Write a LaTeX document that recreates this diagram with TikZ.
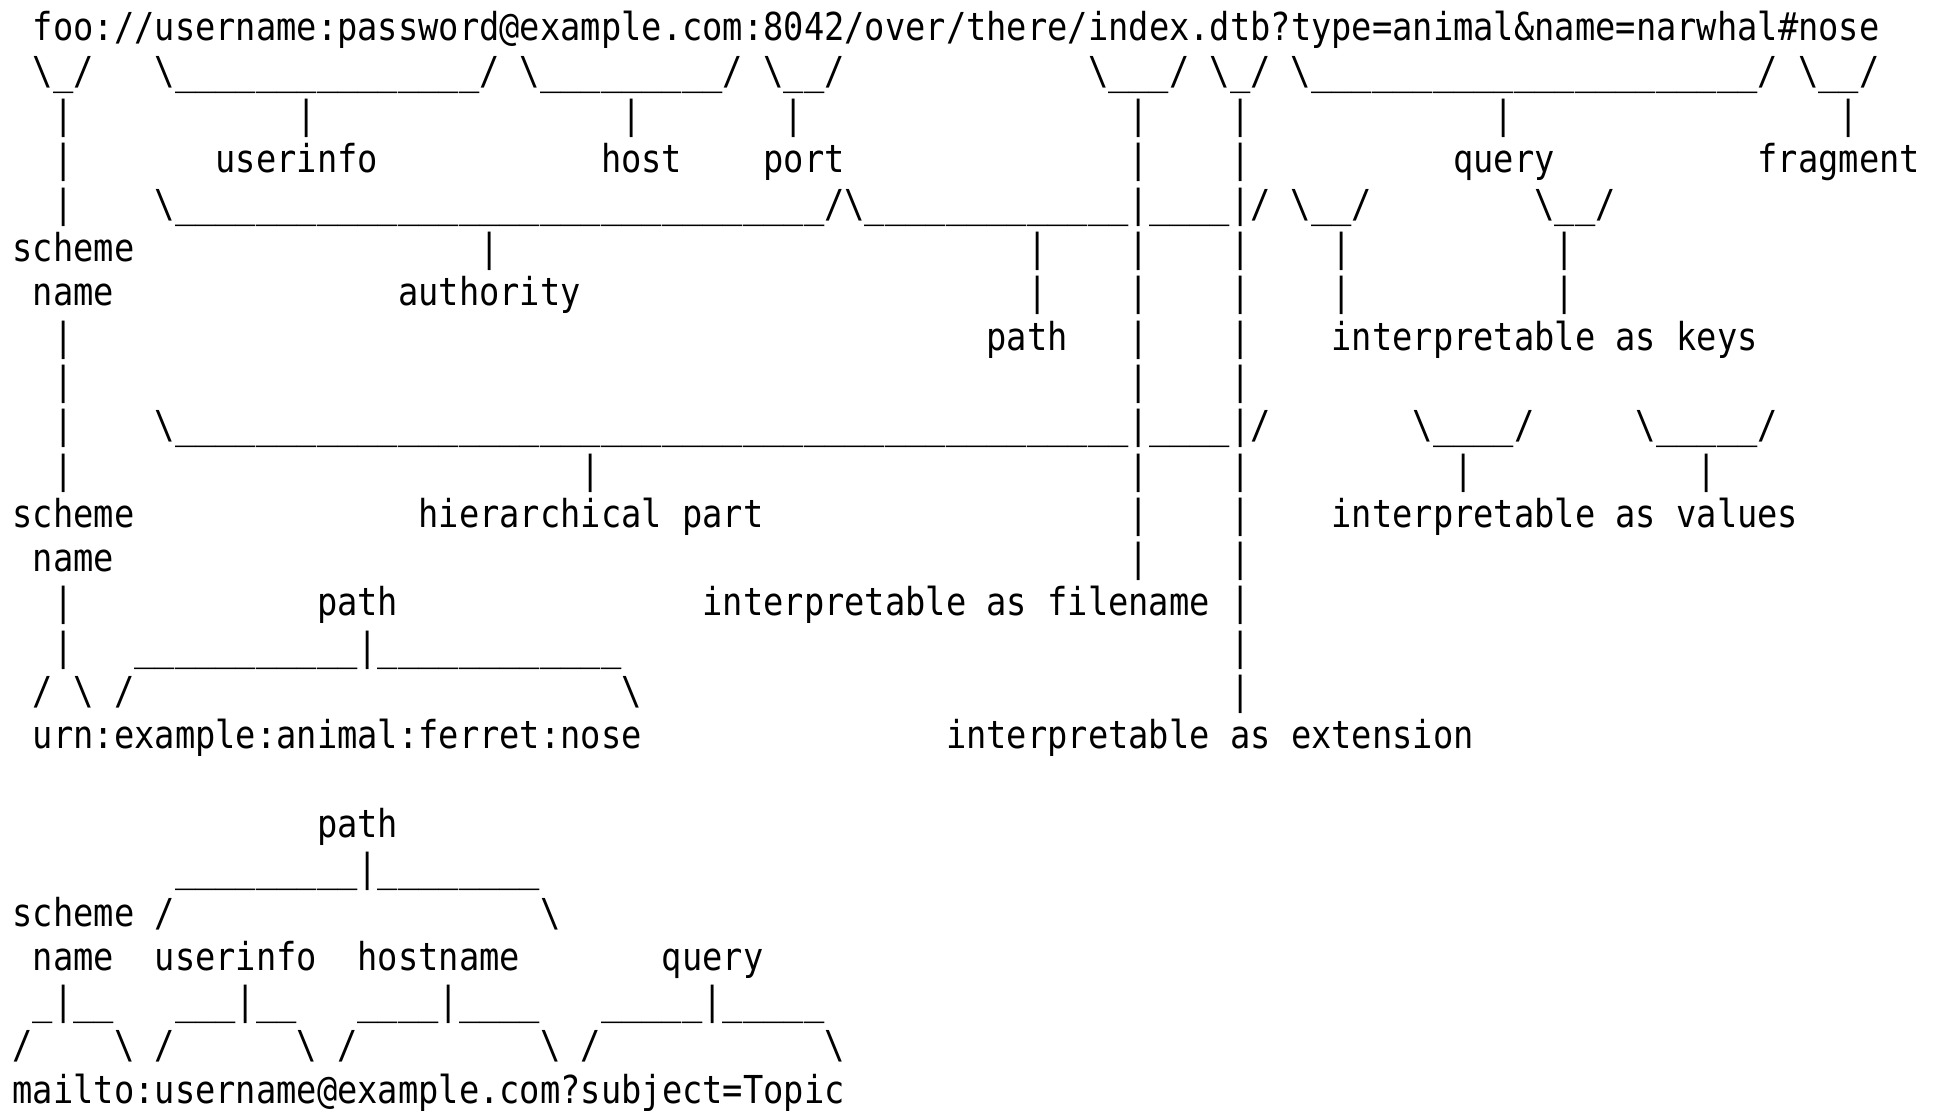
\documentclass[tikz,border=0pt]{standalone}
\usepackage{fontspec}
\newfontfamily\mono[FakeStretch=0.8755]{DejaVu Sans Mono}
\ExplSyntaxOn
\NewDocumentCommand\us{m}{\prg_replicate:nn{#1}{\textunderscore}}
\ExplSyntaxOff
\newcommand\bs{\textbackslash}
\newcommand\asciifont{\mono\fontsize{19.25pt}{22pt}\selectfont\frenchspacing\spaceskip=\fontcharwd\font`x\relax}
\tikzset{txt/.style={anchor=base west,inner sep=0pt,outer sep=0pt,font=\asciifont,text=black}}
\newcommand\bars[2]{\foreach \c in {#2}{\node[txt] (bar-#1-\c) at (\c,#1) {|};}}
\begin{document}
\begin{tikzpicture}[x=10.145pt,y=-22.15pt]
\useasboundingbox (-6.35pt,20pt) rectangle (966.15pt,-535pt);
\fill[white] (-6.35pt,20pt) rectangle (966.15pt,-535pt);
% row 0
\node[txt] (uri) at (1,0) {foo://username:password@example.com:8042/over/there/index.dtb?type=animal\&name=narwhal\#nose};
% row 1
\node[txt] (b-scheme) at (1,1) {\bs\us{1}/};
\node[txt] (b-userinfo) at (7,1) {\bs\us{15}/};
\node[txt] (b-host) at (25,1) {\bs\us{9}/};
\node[txt] (b-port) at (37,1) {\bs\us{2}/};
\node[txt] (b-file) at (53,1) {\bs\us{3}/};
\node[txt] (b-ext) at (59,1) {\bs\us{1}/};
\node[txt] (b-query) at (63,1) {\bs\us{22}/};
\node[txt] (b-frag) at (88,1) {\bs\us{2}/};
% row 2
\bars{2}{2,14,30,38,55,60,73,90}
% row 3
\bars{3}{2,55,60}
\node[txt] (l-userinfo) at (10,3) {userinfo};
\node[txt] (l-host) at (29,3) {host};
\node[txt] (l-port) at (37,3) {port};
\node[txt] (l-query) at (71,3) {query};
\node[txt] (l-frag) at (86,3) {fragment};
% row 4
\bars{4}{2}
\node[txt] (b-auth) at (7,4) {\bs\us{32}/\bs\us{13}|\us{4}|/};
\node[txt] (b-key1) at (63,4) {\bs\us{2}/};
\node[txt] (b-key2) at (75,4) {\bs\us{2}/};
% row 5
\node[txt] (l-scheme1) at (0,5) {scheme};
\bars{5}{23,50,55,60,65,76}
% row 6
\node[txt] (l-name1) at (1,6) {name};
\node[txt] (l-auth) at (19,6) {authority};
\bars{6}{50,55,60,65,76}
% row 7
\bars{7}{2,55,60}
\node[txt] (l-path1) at (48,7) {path};
\node[txt] (l-keys) at (65,7) {interpretable as keys};
% row 8
\bars{8}{2,55,60}
% row 9
\bars{9}{2}
\node[txt] (b-hier) at (7,9) {\bs\us{47}|\us{4}|/};
\node[txt] (b-val1) at (69,9) {\bs\us{4}/};
\node[txt] (b-val2) at (80,9) {\bs\us{5}/};
% row 10
\bars{10}{2,28,55,60,71,83}
% row 11
\node[txt] (l-scheme2) at (0,11) {scheme};
\node[txt] (l-hier) at (20,11) {hierarchical part};
\bars{11}{55,60}
\node[txt] (l-values) at (65,11) {interpretable as values};
% row 12
\node[txt] (l-name2) at (1,12) {name};
\bars{12}{55,60}
% row 13
\bars{13}{2,60}
\node[txt] (l-path2) at (15,13) {path};
\node[txt] (l-filename) at (34,13) {interpretable as filename};
% row 14
\bars{14}{2,60}
\node[txt] (b-urnpath) at (6,14) {\us{11}|\us{12}};
% row 15
\node[txt] (s1) at (1,15) {/};
\node[txt] (s2) at (3,15) {\bs};
\node[txt] (s3) at (5,15) {/};
\node[txt] (s4) at (30,15) {\bs};
\bars{15}{60}
% row 16
\node[txt] (urn) at (1,16) {urn:example:animal:ferret:nose};
\node[txt] (l-ext) at (46,16) {interpretable as extension};
% row 18
\node[txt] (l-path3) at (15,18) {path};
% row 19
\node[txt] (b-mpath) at (8,19) {\us{9}|\us{8}};
% row 20
\node[txt] (l-scheme3) at (0,20) {scheme};
\node[txt] (m1) at (7,20) {/};
\node[txt] (m2) at (26,20) {\bs};
% row 21
\node[txt] (l-name3) at (1,21) {name};
\node[txt] (l-userinfo2) at (7,21) {userinfo};
\node[txt] (l-hostname) at (17,21) {hostname};
\node[txt] (l-query2) at (32,21) {query};
% row 22
\node[txt] (u1) at (1,22) {\us{1}|\us{2}};
\node[txt] (u2) at (8,22) {\us{3}|\us{2}};
\node[txt] (u3) at (17,22) {\us{4}|\us{4}};
\node[txt] (u4) at (29,22) {\us{5}|\us{5}};
% row 23
\node[txt] (d0) at (0,23) {/};
\node[txt] (d5) at (5,23) {\bs};
\node[txt] (d7) at (7,23) {/};
\node[txt] (d14) at (14,23) {\bs};
\node[txt] (d16) at (16,23) {/};
\node[txt] (d26) at (26,23) {\bs};
\node[txt] (d28) at (28,23) {/};
\node[txt] (d40) at (40,23) {\bs};
% row 24
\node[txt] (mailto) at (0,24) {mailto:username@example.com?subject=Topic};
\end{tikzpicture}
\end{document}
